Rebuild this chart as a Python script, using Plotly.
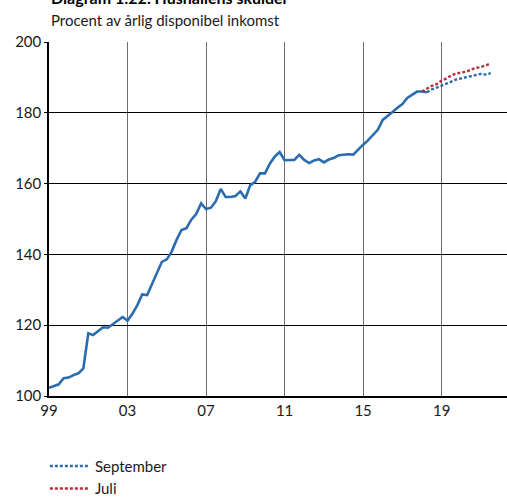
import pandas as pd
import plotly.graph_objects as go

# Outcome: household debt, % of annual disposable income, quarterly 1999Q1-2018Q2
outcome_start = "1999Q1"
outcome = [102.3, 102.7, 103.3, 105.0, 105.2, 105.9, 106.4, 107.8,
           117.7, 117.2, 118.3, 119.4, 119.3, 120.3, 121.4, 122.3,
           121.3, 123.2, 125.6, 128.7, 128.5, 131.5, 134.8, 137.9,
           138.6, 140.8, 144.1, 146.9, 147.4, 149.8, 151.4, 154.4,
           152.8, 153.2, 155.0, 158.5, 156.2, 156.2, 156.5, 157.8,
           155.8, 159.5, 160.5, 162.9, 162.9, 165.6, 167.6, 168.9,
           166.6, 166.7, 166.7, 168.1, 166.7, 165.8, 166.5, 166.9,
           166.0, 166.8, 167.2, 168.0, 168.2, 168.3, 168.2, 169.7,
           171.0, 172.2, 173.6, 175.2, 178.0, 179.0, 180.2, 181.4,
           182.5, 184.2, 185.2, 186.0, 186.0, 185.8]

# Forecasts
sept_start = "2018Q2"
september = [185.8, 186.6, 187.1, 187.6, 188.1, 188.8, 189.4, 189.7,
             190.1, 190.5, 190.8, 191.0, 190.8, 191.2]
juli_start = "2018Q1"
juli = [186.0, 186.9, 187.6, 188.1, 189.1, 189.7, 190.6, 191.1,
        191.3, 191.6, 192.2, 192.7, 192.9, 193.3, 193.9]

tick_years = [1999, 2003, 2007, 2011, 2015, 2019]
tick_labels = ["99", "03", "07", "11", "15", "19"]
y_ticks = [100, 120, 140, 160, 180, 200]

title = "Diagram 1:22. Hushållens skulder"
subtitle = "Procent av årlig disponibel inkomst"


def qdates(start, n):
    return pd.period_range(start=start, periods=n, freq="Q").to_timestamp(how="start")


BLUE = "#2B6CB0"
RED = "#B5303A"
FONT = "Lato, Carlito, 'Open Sans', sans-serif"

fig = go.Figure()
fig.add_trace(go.Scatter(x=qdates(outcome_start, len(outcome)), y=outcome,
                         mode="lines", line=dict(color=BLUE, width=2.6),
                         showlegend=False, hoverinfo="skip"))
fig.add_trace(go.Scatter(x=qdates(sept_start, len(september)), y=september,
                         mode="lines", name="September",
                         line=dict(color=BLUE, width=2.4, dash="3px,2px")))
fig.add_trace(go.Scatter(x=qdates(juli_start, len(juli)), y=juli,
                         mode="lines", name="Juli",
                         line=dict(color=RED, width=2.4, dash="3px,2px")))

tickvals = [pd.Timestamp(year=y, month=1, day=1) for y in tick_years]

fig.update_layout(
    width=507, height=497,
    margin=dict(l=49, r=0, t=42, b=101, autoexpand=False),
    paper_bgcolor="white", plot_bgcolor="white",
    font=dict(family=FONT, size=15, color="#1a1a1a"),
    showlegend=True,
    legend=dict(x=-0.009, y=-0.152, xanchor="left", yanchor="top",
                orientation="v", font=dict(size=15), itemwidth=40,
                bgcolor="rgba(0,0,0,0)", traceorder="normal"),
    annotations=[
        dict(text="<b>" + title + "</b>", x=0, y=1, xref="paper", yref="paper",
             xanchor="left", yanchor="bottom", yshift=33, showarrow=False,
             font=dict(size=16, color="black")),
        dict(text=subtitle, x=0, y=1, xref="paper", yref="paper",
             xanchor="left", yanchor="bottom", yshift=11, showarrow=False,
             font=dict(size=15, color="#1a1a1a")),
    ],
)

fig.update_xaxes(
    type="date", automargin=False,
    range=[pd.Timestamp("1999-01-01"), pd.Timestamp("2022-05-01")],
    tickvals=tickvals, ticktext=tick_labels,
    showgrid=True, gridcolor="#6e6e6e", gridwidth=1.3,
    showline=True, linecolor="black", linewidth=1.5,
    ticks="", zeroline=False, tickfont=dict(size=15),
)
fig.update_yaxes(
    range=[100, 200], tickvals=y_ticks, automargin=False,
    showgrid=True, gridcolor="black", gridwidth=1,
    showline=True, linecolor="black", linewidth=1.5,
    ticks="outside", ticklen=3, tickcolor="black",
    zeroline=False, tickfont=dict(size=15),
)

fig.write_html("out.html", config={"displayModeBar": False},
               post_script="document.body.style.margin='0';")
